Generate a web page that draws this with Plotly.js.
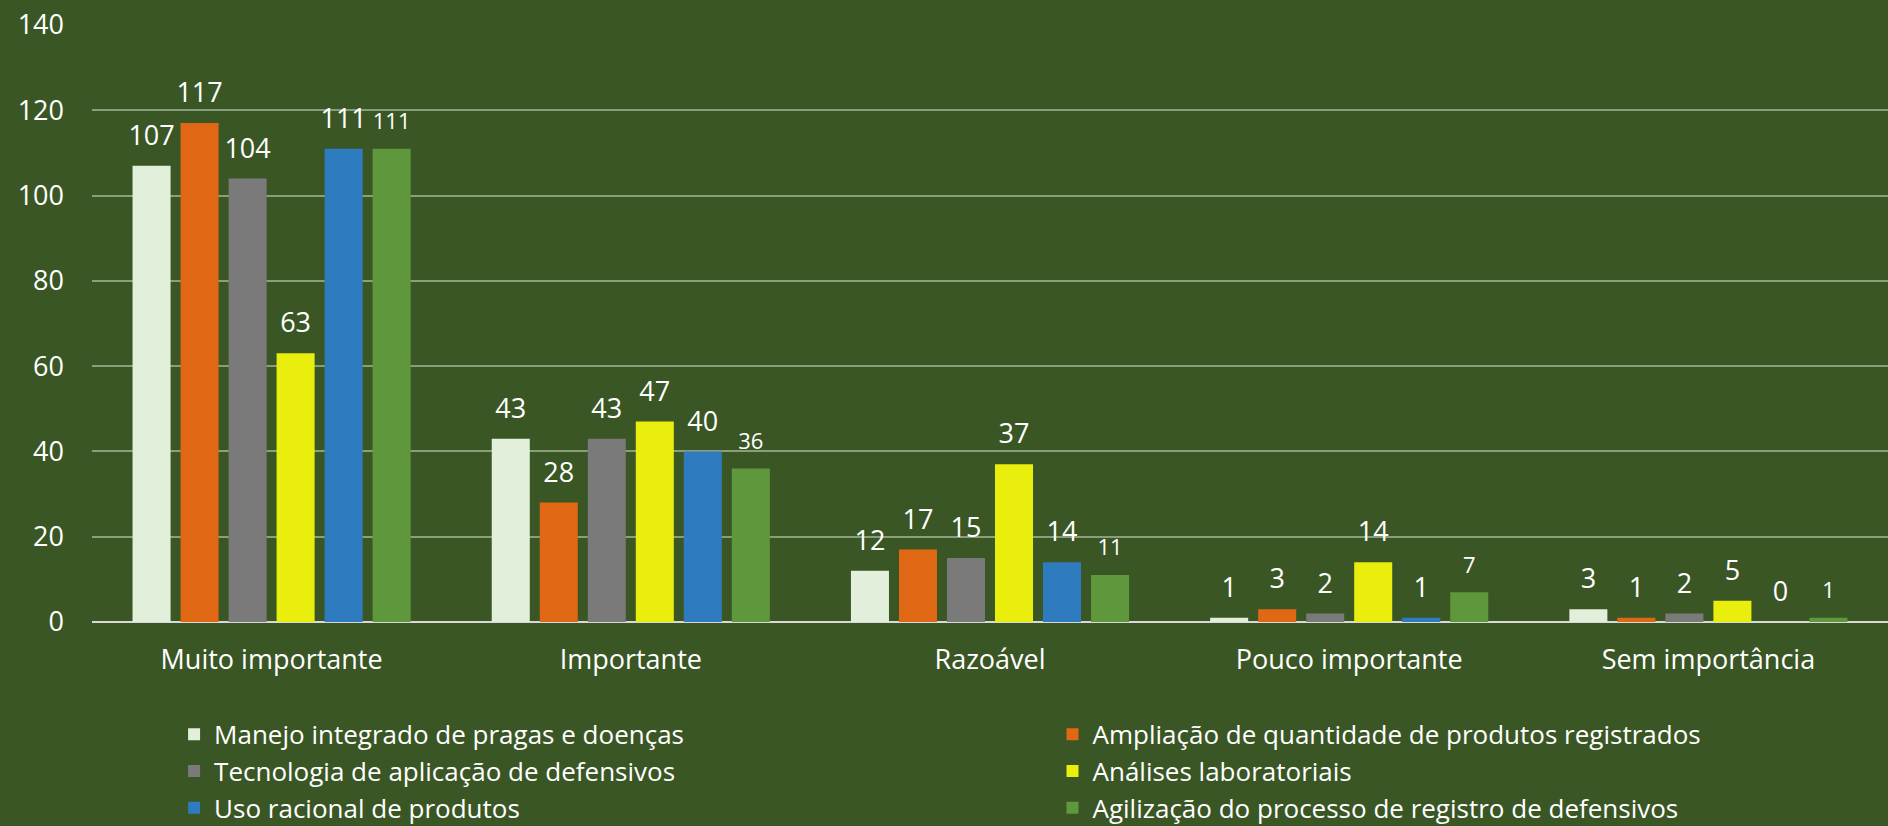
<!DOCTYPE html>
<html>
<head>
<meta charset="utf-8">
<script src="https://cdn.plot.ly/plotly-3.0.1.min.js"></script>
<style>
  html, body { margin: 0; padding: 0; background: #3A5625; }
  #chart { width: 1888px; height: 826px; }
</style>
</head>
<body>
<div id="chart"></div>
<script>
// categories on the x axis
const categories = ['Muito importante', 'Importante', 'Razoável', 'Pouco importante', 'Sem importância'];

// one array per series
const manejo = [107, 43, 12, 1, 3];
const ampliacao = [117, 28, 17, 3, 1];
const tecnologia = [104, 43, 15, 2, 2];
const analises = [63, 47, 37, 14, 5];
const usoRacional = [111, 40, 14, 1, 0];
const agilizacao = [111, 36, 11, 7, 1];

const seriesNames = [
    'Manejo integrado de pragas e doenças',
    'Ampliação de quantidade de produtos registrados',
    'Tecnologia de aplicação de defensivos',
    'Análises laboratoriais',
    'Uso racional de produtos',
    'Agilização do processo de registro de defensivos'
];
const seriesValues = [manejo, ampliacao, tecnologia, analises, usoRacional, agilizacao];
const seriesColors = ['#E2EFDA', '#E06714', '#7A7A7A', '#EAEE0C', '#2F7BBF', '#5F973C'];
const labelSizes = [27, 27, 27, 27, 27, 22];
// legend column for each series (two columns, filled row by row)
const legendIds = ['legend', 'legend2', 'legend', 'legend2', 'legend', 'legend2'];

const fontFamily = '"Open Sans", Lato, sans-serif';
const bargap = 0.198;
const nSeries = seriesValues.length;

const traces = [];

// bars
seriesValues.forEach((vals, i) => {
    traces.push({
        type: 'bar',
        name: seriesNames[i],
        legend: legendIds[i],
        x: categories,
        y: vals,
        marker: { color: seriesColors[i] },
        hoverinfo: 'x+y+name'
    });
});

// value labels, placed over each bar on a hidden numeric axis
seriesValues.forEach((vals, i) => {
    const offset = (i - (nSeries - 1) / 2) * (1 - bargap) / nSeries;
    traces.push({
        type: 'scatter',
        mode: 'markers+text',
        xaxis: 'x2',
        x: categories.map((c, k) => k + offset),
        y: vals,
        text: vals.map(String),
        textposition: 'top center',
        textfont: { family: fontFamily, size: labelSizes[i], color: '#FFFFFF' },
        marker: { size: 21, color: 'rgba(0,0,0,0)' },
        showlegend: false,
        hoverinfo: 'skip',
        cliponaxis: false
    });
});

const legendBase = {
    orientation: 'v',
    xanchor: 'left',
    y: -0.1487,
    yanchor: 'top',
    traceorder: 'normal',
    bgcolor: 'rgba(0,0,0,0)',
    font: { family: fontFamily, size: 26, color: '#FFFFFF' },
    tracegroupgap: 0
};

const layout = {
    width: 1888,
    height: 826,
    paper_bgcolor: '#3A5625',
    plot_bgcolor: '#3A5625',
    margin: { l: 92, r: 0, t: 25, b: 204, autoexpand: false },
    font: { family: fontFamily, color: '#FFFFFF', size: 27 },
    barmode: 'group',
    bargap: bargap,
    bargroupgap: 0.208,
    showlegend: true,
    xaxis: {
        type: 'category',
        range: [-0.5, 4.5],
        showgrid: false,
        showline: false,
        ticks: '',
        ticklabelstandoff: 19,
        tickfont: { family: fontFamily, size: 27, color: '#FFFFFF' }
    },
    xaxis2: {
        overlaying: 'x',
        range: [-0.5, 4.5],
        visible: false
    },
    yaxis: {
        range: [0, 140],
        dtick: 20,
        showgrid: true,
        gridcolor: '#8A9E7A',
        gridwidth: 2,
        zeroline: true,
        zerolinecolor: '#D9D9D9',
        zerolinewidth: 2,
        showline: false,
        ticks: '',
        ticklabelstandoff: 27,
        tickfont: { family: fontFamily, size: 27, color: '#FFFFFF' }
    },
    legend: Object.assign({}, legendBase, { x: 0.0457 }),
    legend2: Object.assign({}, legendBase, { x: 0.5348 })
};

Plotly.newPlot('chart', traces, layout, { displayModeBar: false, staticPlot: true });
</script>
</body>
</html>
